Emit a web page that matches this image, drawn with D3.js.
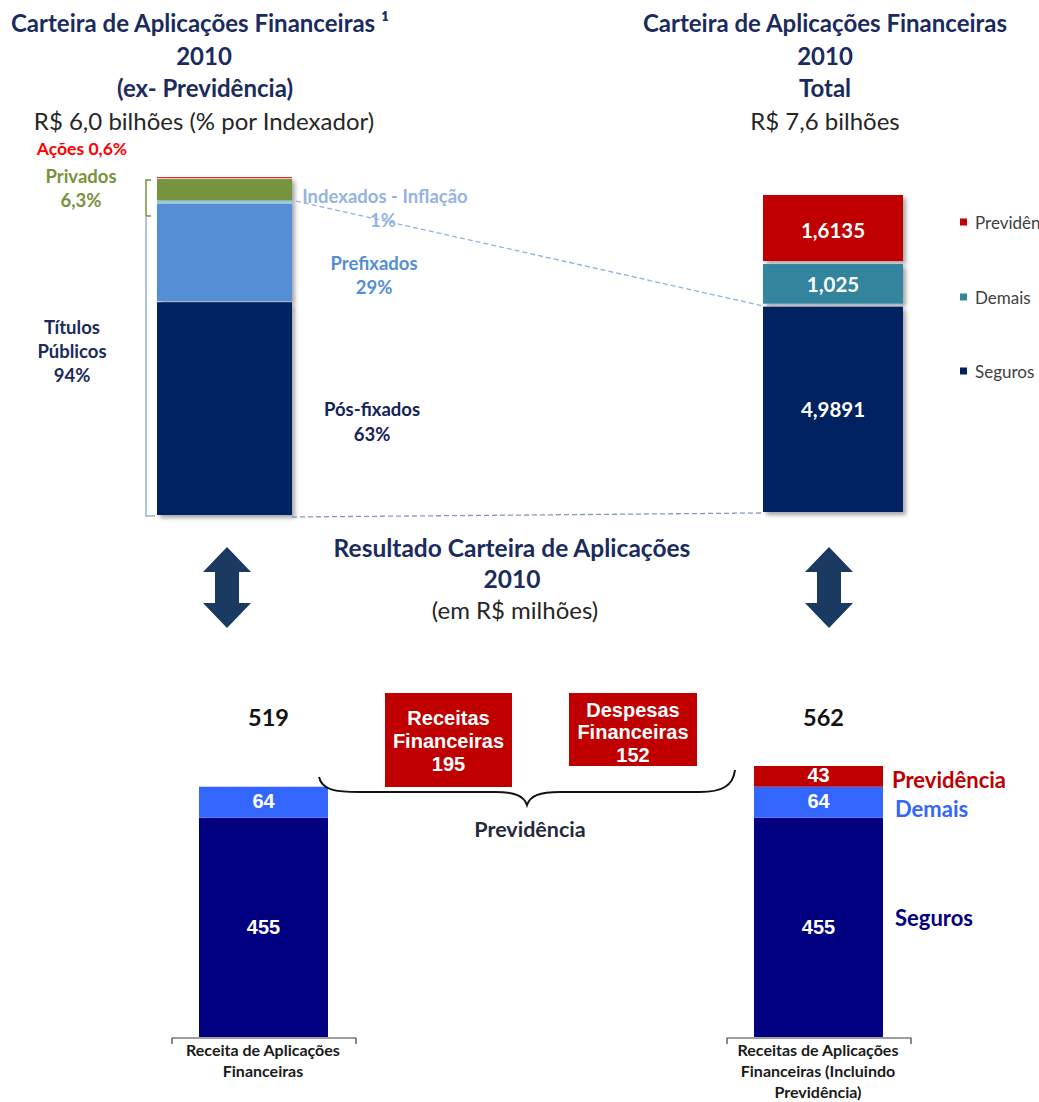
<!DOCTYPE html>
<html><head><meta charset="utf-8">
<script src="https://cdn.jsdelivr.net/npm/d3@7"></script>
<style>body{margin:0;background:#fff} svg{display:block}</style>
</head><body><svg id="c" width="1039" height="1102"></svg>
<script>
// ---------- DATA ----------
const leftCategories = ["Pós-fixados", "Prefixados", "Indexados - Inflação", "Privados", "Ações"];
const leftValues = [63, 29, 1, 6.3, 0.6];
const leftPctLabels = ["63%", "29%", "1%", "6,3%", "0,6%"];
const rightCategories = ["Seguros", "Demais", "Previdência"];
const rightValues = [4.9891, 1.025, 1.6135];
const rightLabels = ["4,9891", "1,025", "1,6135"];
const resultCategories = ["Receita de Aplicações Financeiras", "Receitas de Aplicações Financeiras (Incluindo Previdência)"];
const resultSeries = ["Seguros", "Demais", "Previdência"];
const resultLeft = [455, 64];
const resultRight = [455, 64, 43];
const resultTotals = [519, 562];
const prevReceitas = 195;
const prevDespesas = 152;

// ---------- SETUP ----------
const svg = d3.select("#c");
const NAVY_T = "#1b2b5e";
const FONT = "Lato, 'Open Sans', sans-serif";
const ARIAL = "'Liberation Sans', Arial, sans-serif";

const defs = svg.append("defs");
const f = defs.append("filter").attr("id", "sh").attr("x", "-10%").attr("y", "-10%").attr("width", "130%").attr("height", "130%");
f.append("feDropShadow").attr("dx", 3).attr("dy", 3).attr("stdDeviation", 2).attr("flood-color", "#000").attr("flood-opacity", 0.35);

function txt(x, y, s, o = {}) {
  return svg.append("text").attr("x", x).attr("y", y).text(s)
    .attr("text-anchor", o.anchor || "middle").attr("dominant-baseline", "central")
    .attr("font-family", o.family || FONT).attr("font-size", o.size || 18.5)
    .attr("font-weight", o.weight || "bold").attr("fill", o.fill || NAVY_T);
}

// ---------- TITLES ----------
[["Carteira de Aplicações Financeiras ¹", 200, 22], ["2010", 204, 55], ["(ex- Previdência)", 205, 87]]
  .forEach(d => txt(d[1], d[2], d[0], { size: 24 }));
txt(204, 120, "R$ 6,0 bilhões (% por Indexador)", { size: 24, weight: "normal", fill: "#262626" });
[["Carteira de Aplicações Financeiras", 825, 22], ["2010", 825, 55], ["Total", 825, 87]]
  .forEach(d => txt(d[1], d[2], d[0], { size: 24 }));
txt(825, 120, "R$ 7,6 bilhões", { size: 24, weight: "normal", fill: "#262626" });

// ---------- TOP LEFT BAR (% por indexador) ----------
const yL = d3.scaleLinear().domain([0, d3.sum(leftValues)]).range([516, 177]);
const leftColors = ["#002060", "#558ed5", "#93cddd", "#77933c", "#e8242c"];
const leftGaps = [1, 1, 0, 0, 1];
const cumL = [0, ...d3.cumsum(leftValues)];
const lx = 157, lw = 135;
svg.append("g").attr("filter", "url(#sh)").selectAll("rect").data(leftValues).join("rect")
  .attr("x", lx).attr("width", lw)
  .attr("y", (d, i) => yL(cumL[i + 1]))
  .attr("height", (d, i) => Math.max(1.2, yL(cumL[i]) - yL(cumL[i + 1]) - leftGaps[i]))
  .attr("fill", (d, i) => leftColors[i]);

// brackets
svg.append("path").attr("d", "M151,180 H146 V216 H151").attr("fill", "none").attr("stroke", "#77933c").attr("stroke-width", 1.5);
svg.append("path").attr("d", "M146,216 V516 H155").attr("fill", "none").attr("stroke", "#95b3d7").attr("stroke-width", 1.5);

// labels left
txt(82, 148, "Ações " + leftPctLabels[4], { size: 17.5, fill: "#ff0000" });
txt(81, 176, leftCategories[3], { fill: "#77933c" });
txt(81, 200, leftPctLabels[3], { fill: "#77933c" });
txt(72, 327, "Títulos");
txt(72, 351, "Públicos");
txt(72, 375, "94%");
const midPos = (yL(cumL[0]) + yL(cumL[1])) / 2;
txt(372, midPos, leftCategories[0], { fill: "#14235a" });
txt(372, midPos + 25, leftPctLabels[0], { fill: "#14235a" });
const midPre = (yL(cumL[1]) + yL(cumL[2])) / 2;
txt(374, midPre + 10, leftCategories[1], { fill: "#558ed5" });
txt(374, midPre + 34, leftPctLabels[1], { fill: "#558ed5" });
txt(385, 196, leftCategories[2], { fill: "#95b3e0" });
txt(383, 220, leftPctLabels[2], { fill: "#95b3e0" });

// ---------- TOP RIGHT BAR ----------
const yR = d3.scaleLinear().domain([0, d3.sum(rightValues)]).range([512, 195]);
const rightColors = ["#002060", "#31859c", "#c00000"];
const cumR = [0, ...d3.cumsum(rightValues)];
const rx = 763, rw = 140;
svg.append("g").attr("filter", "url(#sh)").selectAll("rect").data(rightValues).join("rect")
  .attr("x", rx).attr("width", rw)
  .attr("y", (d, i) => yR(cumR[i + 1]) + (i < 2 ? 2 : 0))
  .attr("height", (d, i) => yR(cumR[i]) - yR(cumR[i + 1]) - (i < 2 ? 2 : 0) - (i > 0 ? 1 : 0))
  .attr("fill", (d, i) => rightColors[i]);
svg.append("g").selectAll("text").data(rightValues).join("text")
  .attr("x", rx + rw / 2).attr("y", (d, i) => (yR(cumR[i]) + yR(cumR[i + 1])) / 2 + 1)
  .attr("text-anchor", "middle").attr("dominant-baseline", "central")
  .attr("font-family", FONT).attr("font-weight", "bold").attr("font-size", 20.5).attr("fill", "#fff")
  .text((d, i) => rightLabels[i]);

// legend
const legY = { "Previdência": 222, "Demais": 297, "Seguros": 371 };
rightCategories.forEach((c, i) => {
  svg.append("rect").attr("x", 960).attr("y", legY[c] - 3.5).attr("width", 7).attr("height", 7).attr("fill", rightColors[i]);
  txt(975, legY[c], c, { anchor: "start", size: 17, weight: "normal", fill: "#404040" });
});

// dashed connectors
svg.append("line").attr("x1", 296).attr("y1", yL(cumL[2] + 0.5) - 1).attr("x2", rx - 1).attr("y2", yR(cumR[1]) + 1)
  .attr("stroke", "#8eb4e3").attr("stroke-width", 1.3).attr("stroke-dasharray", "5,3");
svg.append("line").attr("x1", lx + lw).attr("y1", 517).attr("x2", rx - 1).attr("y2", 513)
  .attr("stroke", "#8497b8").attr("stroke-width", 1.3).attr("stroke-dasharray", "5,3");

// ---------- MIDDLE TITLE & ARROWS ----------
txt(512, 547, "Resultado Carteira de Aplicações", { size: 24.5 });
txt(512, 578, "2010", { size: 24.5 });
txt(515, 609, "(em R$ milhões)", { size: 24, weight: "normal", fill: "#262626" });

function arrow(cx) {
  const t = 547, b = 628, hw = 24, sw = 12, hh = 25;
  svg.append("path").attr("fill", "#1a3a62").attr("d",
    `M${cx},${t} L${cx + hw},${t + hh} L${cx + sw},${t + hh} L${cx + sw},${b - hh} L${cx + hw},${b - hh} L${cx},${b} ` +
    `L${cx - hw},${b - hh} L${cx - sw},${b - hh} L${cx - sw},${t + hh} L${cx - hw},${t + hh} Z`);
}
arrow(227); arrow(829);

// ---------- BOTTOM BARS ----------
const yB = d3.scaleLinear().domain([0, d3.max(resultTotals)]).range([1037, 766]);
const xB = d3.scalePoint().domain(resultCategories).range([263.5, 818.5]);
const bw = 129;
const resColors = ["#000080", "#3366ff", "#c00000"];
[resultLeft, resultRight].forEach((vals, k) => {
  const x0 = xB(resultCategories[k]) - bw / 2;
  const cum = [0, ...d3.cumsum(vals)];
  const g = svg.append("g");
  g.selectAll("rect").data(vals).join("rect")
    .attr("x", x0).attr("width", bw)
    .attr("y", (d, i) => yB(cum[i + 1])).attr("height", (d, i) => yB(cum[i]) - yB(cum[i + 1]))
    .attr("fill", (d, i) => resColors[i]);
  g.selectAll("text").data(vals).join("text")
    .attr("x", x0 + bw / 2).attr("y", (d, i) => (yB(cum[i]) + yB(cum[i + 1])) / 2 + (i === 0 ? 0 : -1))
    .attr("text-anchor", "middle").attr("dominant-baseline", "central")
    .attr("font-family", ARIAL).attr("font-weight", "bold").attr("font-size", 20).attr("fill", "#fff")
    .text(d => d);
  // total
  txt(x0 + bw / 2 + 5, 717, resultTotals[k], { size: 23.5, fill: "#111" });
  // axis bracket
  svg.append("path").attr("d", `M${x0 - 27},${1044} V${1038} H${x0 + bw + 28} V${1044}`)
    .attr("fill", "none").attr("stroke", "#404040").attr("stroke-width", 1.2);
});
// category labels
const catOpt = { size: 16, fill: "#1a1a1a" };
txt(263, 1049, "Receita de Aplicações", catOpt);
txt(263, 1070, "Financeiras", catOpt);
txt(818, 1049, "Receitas de Aplicações", catOpt);
txt(818, 1070, "Financeiras  (Incluindo", catOpt);
txt(818, 1091, "Previdência)", catOpt);

// right series labels
txt(892, 779, resultSeries[2], { anchor: "start", size: 22, fill: "#c00000" });
txt(895, 808, resultSeries[1], { anchor: "start", size: 22, fill: "#3366ff" });
txt(895, 917, resultSeries[0], { anchor: "start", size: 22, fill: "#000080" });

// Previdência boxes
function box(x, y, w, h, lines, ys) {
  svg.append("rect").attr("x", x).attr("y", y).attr("width", w).attr("height", h).attr("fill", "#c00000");
  lines.forEach((l, i) => txt(x + w / 2, ys[i], l, { family: ARIAL, size: 20, fill: "#fff" }));
}
box(385, 693, 127, 94, ["Receitas", "Financeiras", prevReceitas], [718, 741, 764]);
box(569, 693, 128, 73, ["Despesas", "Financeiras", prevDespesas], [710, 732, 755]);

// brace
svg.append("path").attr("fill", "none").attr("stroke", "#111").attr("stroke-width", 2)
  .attr("d", "M319,777 C322,790 335,792 360,792 L495,792 C515,792 524,796 527,805 C530,796 539,792 560,792 L700,792 C722,792 733,786 735,770");
txt(530, 829, "Previdência", { size: 21.5, fill: "#262a3a" });
</script></body></html>
